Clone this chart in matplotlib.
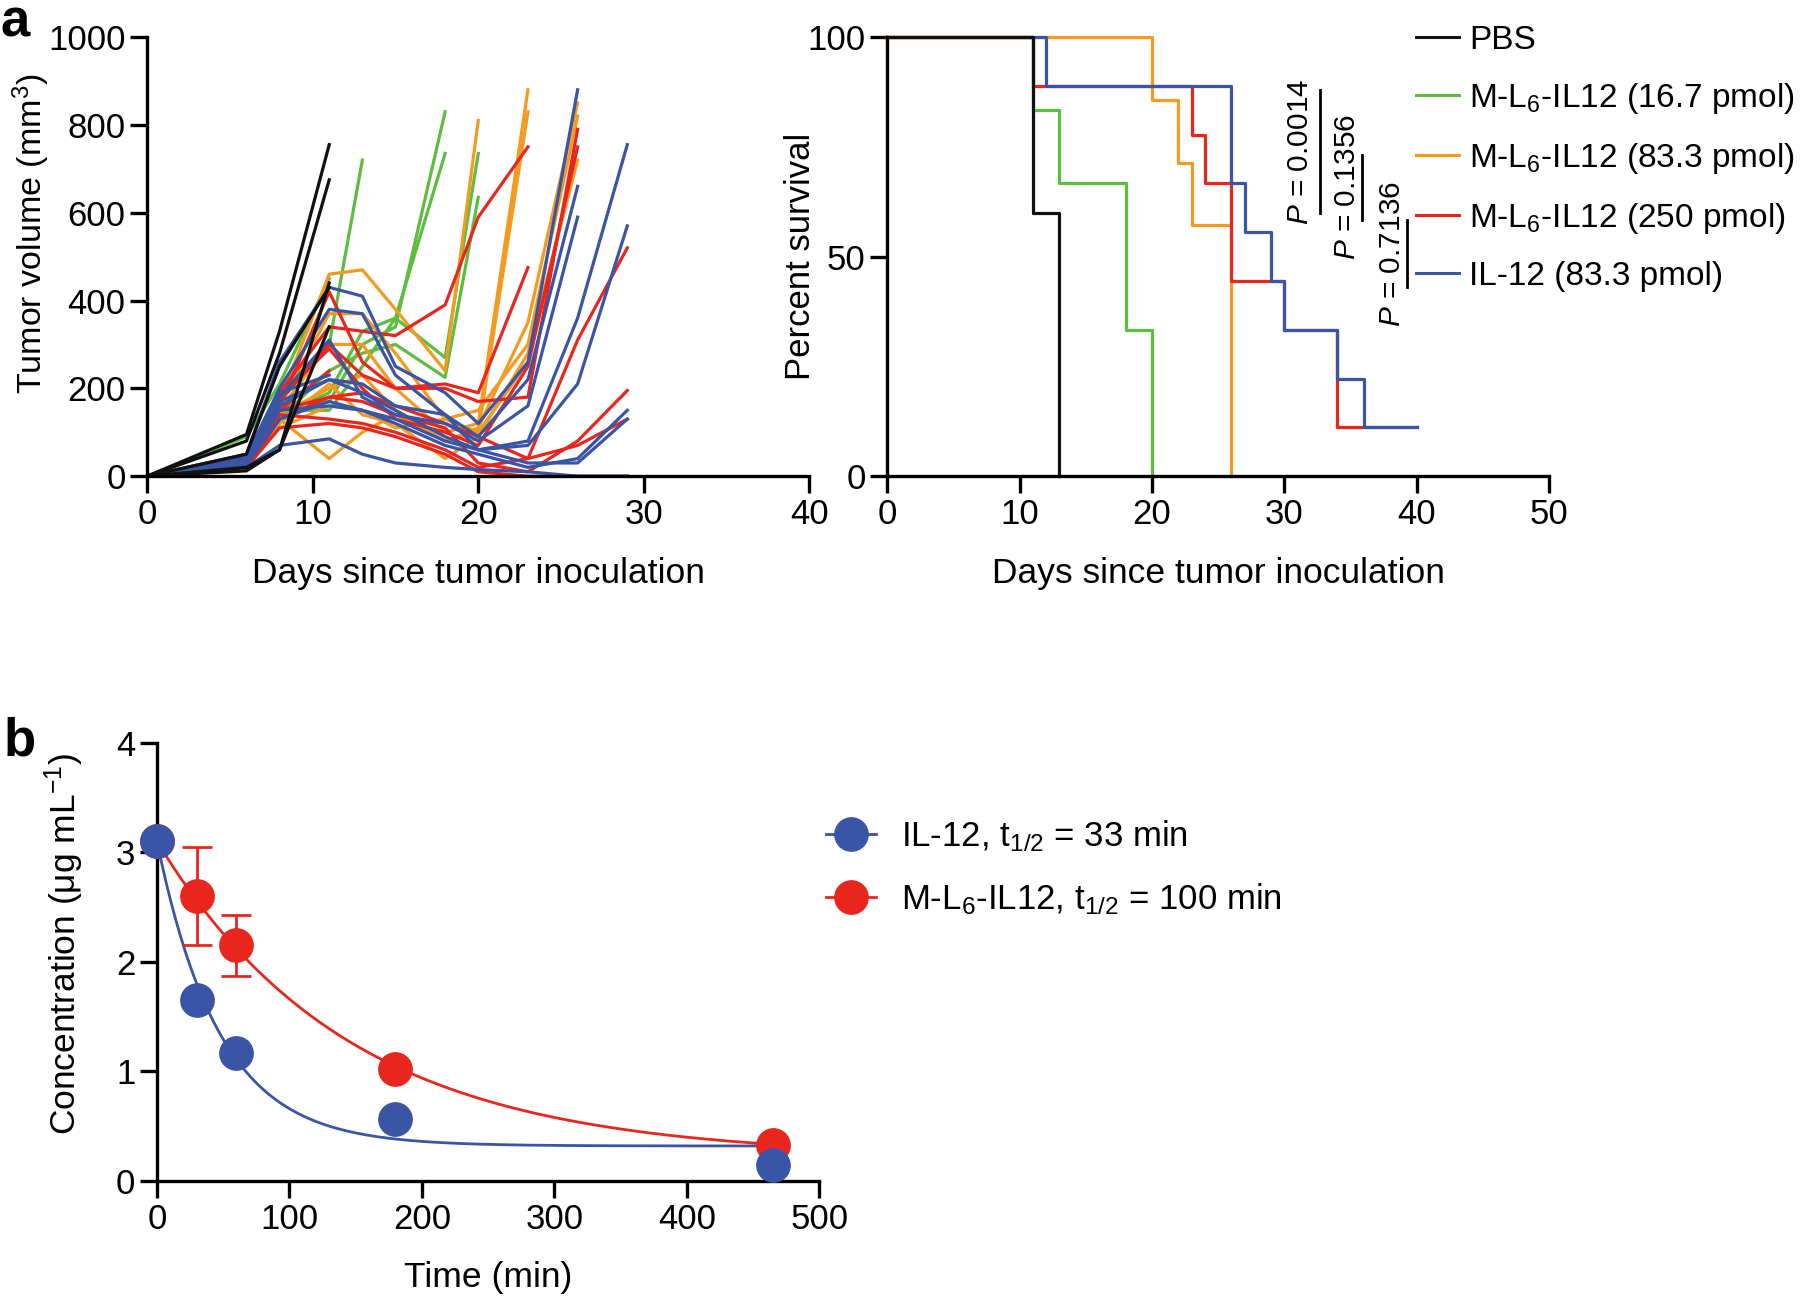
import numpy as np
import matplotlib
matplotlib.use("Agg")
import matplotlib.pyplot as plt
from matplotlib.lines import Line2D

plt.rcParams['font.family'] = ['Liberation Sans', 'DejaVu Sans']
plt.rcParams['mathtext.fontset'] = 'custom'
plt.rcParams['mathtext.rm'] = 'Liberation Sans'
plt.rcParams['mathtext.it'] = 'Liberation Sans:italic'
plt.rcParams['font.size'] = 25

# ---- data ----
days = [0, 6, 8, 11, 13, 15, 18, 20, 23, 26, 29]

# tumour volumes per mouse (mm^3), read at the days above
pbs_tracks = [
    [0, 95, 330, 755],
    [0, 80, 280, 675],
    [0, 50, 250, 430],
    [0, 20, 60, 340],
    [0, 12, 60, 440],
]
l6_low_tracks = [
    [0, 90, 210, 450],
    [0, 50, 180, 300, 720],
    [0, 40, 160, 170, 300, 340, 830],
    [0, 35, 150, 150, 250, 360, 735],
    [0, 30, 140, 190, 330, 360, 270, 735],
    [0, 25, 130, 240, 280, 300, 225, 635],
]
l6_mid_tracks = [
    [0, 40, 170, 460, 470, 380, 240, 810],
    [0, 30, 150, 300, 300, 200, 100, 120, 880],
    [0, 25, 140, 200, 230, 150, 80, 100, 830],
    [0, 20, 130, 40, 100, 140, 80, 110, 350, 850],
    [0, 35, 160, 370, 370, 280, 130, 150, 300, 820],
    [0, 30, 120, 210, 140, 120, 40, 90, 280, 720],
    [0, 20, 110, 160, 150, 110, 130, 100, 260],
]
l6_high_tracks = [
    [0, 30, 150, 240],
    [0, 35, 190, 340, 330, 320, 390, 590, 750],
    [0, 30, 170, 300, 230, 200, 210, 190, 475],
    [0, 25, 160, 420, 260, 200, 200, 170, 180, 790],
    [0, 30, 180, 290, 200, 130, 100, 70, 250, 750],
    [0, 20, 140, 130, 120, 100, 60, 20, 40, 310, 520],
    [0, 15, 130, 180, 170, 140, 110, 30, 10, 80, 195],
    [0, 20, 110, 120, 110, 90, 50, 10, 0, 0, 0],
    [0, 25, 150, 180, 190, 160, 120, 90, 40, 70, 130],
]
il12_tracks = [
    [0, 30, 190, 230],
    [0, 50, 260, 430, 410, 250, 190, 120, 260, 880],
    [0, 45, 200, 380, 370, 230, 140, 90, 220, 660],
    [0, 40, 180, 310, 180, 140, 120, 80, 160, 590],
    [0, 35, 170, 220, 210, 160, 140, 60, 80, 360, 755],
    [0, 30, 150, 160, 150, 130, 80, 60, 70, 210, 570],
    [0, 25, 130, 170, 150, 120, 70, 50, 20, 40, 150],
    [0, 20, 70, 85, 50, 30, 20, 15, 10, 0, 0],
    [0, 30, 160, 220, 190, 150, 90, 60, 30, 30, 130],
]

# Kaplan-Meier steps (day, percent survival)
pbs_surv_t = [0, 11, 13]
pbs_surv = [100, 60, 0]
low_surv_t = [0, 11, 13, 18, 20]
low_surv = [100, 83.3, 66.7, 33.3, 0]
mid_surv_t = [0, 20, 22, 23, 26]
mid_surv = [100, 85.7, 71.4, 57.1, 0]
high_surv_t = [0, 11, 23, 24, 26, 30, 34, 40]
high_surv = [100, 88.9, 77.8, 66.7, 44.4, 33.3, 11.1, 11.1]
il12_surv_t = [0, 12, 26, 27, 29, 30, 34, 36, 40]
il12_surv = [100, 88.9, 66.7, 55.6, 44.4, 33.3, 22.2, 11.1, 11.1]

group_labels = ['PBS', 'M-L$_6$-IL12 (16.7 pmol)', 'M-L$_6$-IL12 (83.3 pmol)',
                'M-L$_6$-IL12 (250 pmol)', 'IL-12 (83.3 pmol)']
p_labels = ['$P$ = 0.0014', '$P$ = 0.1356', '$P$ = 0.7136']

# pharmacokinetics
pk_time = [0, 30, 60, 180, 465]
il12_conc = [3.1, 1.65, 1.17, 0.57, 0.15]
ml6_conc = [3.1, 2.6, 2.15, 1.02, 0.33]
ml6_err = [0, 0.45, 0.28, 0, 0]
# one-phase decay fit parameters
il12_fit = dict(y0=3.1, plateau=0.32, half_life=33)
ml6_fit = dict(y0=3.1, plateau=0.22, half_life=100)

black = '#111111'
green = '#5cbd3e'
orange = '#f49a1f'
red = '#e8261d'
blue = '#3a55a6'
colors = [black, green, orange, red, blue]

fig = plt.figure(figsize=(18, 13.01), dpi=100)

def style_axes(ax):
    for s in ['top', 'right']:
        ax.spines[s].set_visible(False)
    for s in ['left', 'bottom']:
        ax.spines[s].set_linewidth(2.4)
        ax.spines[s].set_color('black')
    ax.tick_params(width=2.4, length=12, labelsize=25, pad=3.5)

# ---- tumour growth ----
ax1 = fig.add_axes([0.0817, 0.634, 0.368, 0.3375])
for tracks, col in [(l6_low_tracks, green), (l6_mid_tracks, orange),
                    (l6_high_tracks, red), (il12_tracks, blue), (pbs_tracks, black)]:
    for tr in tracks:
        ax1.plot(days[:len(tr)], tr, color=col, lw=2.3)
ax1.set_xlim(0, 40)
ax1.set_ylim(0, 1000)
ax1.set_xticks([0, 10, 20, 30, 40])
ax1.set_yticks(range(0, 1001, 200))
style_axes(ax1)
ax1.set_ylabel('Tumor volume (mm$^3$)', fontsize=24.5)
ax1.set_xlabel('Days since tumor inoculation', fontsize=25.5)
ax1.yaxis.set_label_coords(-0.1435, 0.551)
ax1.xaxis.set_label_coords(0.5, -0.1845)

# ---- survival ----
ax2 = fig.add_axes([0.4928, 0.634, 0.368, 0.3375])
surv = [(low_surv_t, low_surv, green), (mid_surv_t, mid_surv, orange),
        (high_surv_t, high_surv, red), (il12_surv_t, il12_surv, blue),
        (pbs_surv_t, pbs_surv, black)]
for t, s, col in surv:
    ax2.step(t, s, where='post', color=col, lw=2.3, clip_on=False)
ax2.set_xlim(0, 50)
ax2.set_ylim(0, 100)
ax2.set_xticks(range(0, 51, 10))
ax2.set_yticks([0, 50, 100])
style_axes(ax2)
ax2.set_ylabel('Percent survival', fontsize=25)
ax2.set_xlabel('Days since tumor inoculation', fontsize=25.5)
ax2.yaxis.set_label_coords(-0.1056, 0.5)
ax2.xaxis.set_label_coords(0.5, -0.1845)

handles = [Line2D([], [], color=c, lw=2.2) for c in colors]
ax2.legend(handles, group_labels, loc='upper left', frameon=False,
           bbox_to_anchor=(1416 / 1800, 1 - 25 / 1301), bbox_transform=fig.transFigure,
           handlelength=1.3, handletextpad=0.3, labelspacing=0.75, fontsize=24,
           borderaxespad=0, borderpad=0)

# P values with comparison bars (figure pixel coords)
p_text_xy = [(1300, 152), (1347, 187), (1392, 254)]
p_bar = [(1320, 90, 213), (1362, 155, 220), (1407, 220, 287)]
for lab, (tx, ty), (bx, b0, b1) in zip(p_labels, p_text_xy, p_bar):
    fig.text(tx / 1800, 1 - ty / 1301, lab, rotation=90, ha='center', va='center', fontsize=21.5)
    fig.add_artist(Line2D([bx / 1800, bx / 1800], [1 - b0 / 1301, 1 - b1 / 1301],
                          color='black', lw=2.0))

# ---- pharmacokinetics ----
ax3 = fig.add_axes([0.0872, 0.0922, 0.368, 0.337])
tt = np.linspace(0, max(pk_time), 400)
for fit, col in [(ml6_fit, red), (il12_fit, blue)]:
    k = np.log(2) / fit['half_life']
    ax3.plot(tt, (fit['y0'] - fit['plateau']) * np.exp(-k * tt) + fit['plateau'],
             color=col, lw=2.0, clip_on=False)
ax3.errorbar(pk_time, ml6_conc, yerr=ml6_err, fmt='o', color=red, ms=24,
             elinewidth=2.0, capsize=11, capthick=2.0, clip_on=False, zorder=3)
ax3.plot(pk_time, il12_conc, 'o', color=blue, ms=24, clip_on=False, zorder=4)
ax3.set_xlim(0, 500)
ax3.set_ylim(0, 4)
ax3.set_xticks(range(0, 501, 100))
ax3.set_yticks(range(0, 5))
style_axes(ax3)
ax3.set_ylabel('Concentration (μg mL$^{-1}$)', fontsize=25.5)
ax3.set_xlabel('Time (min)', fontsize=25.5)
ax3.yaxis.set_label_coords(-0.107, 0.54)
ax3.xaxis.set_label_coords(0.5, -0.183)

pk_handles = [Line2D([], [], color=blue, lw=2.0, marker='o', ms=24),
              Line2D([], [], color=red, lw=2.0, marker='o', ms=24)]
pk_labels = ['IL-12, t$_{1/2}$ = 33 min', 'M-L$_6$-IL12, t$_{1/2}$ = 100 min']
ax3.legend(pk_handles, pk_labels, loc='upper left', frameon=False,
           bbox_to_anchor=(826 / 1800, 1 - 818 / 1301), bbox_transform=fig.transFigure,
           handlelength=1.45, handletextpad=0.7, labelspacing=0.8, fontsize=25,
           borderaxespad=0, borderpad=0)

fig.text(0.0, 1.002, 'a', fontsize=38, fontweight='bold', va='top', ha='left')
fig.text(0.002, 1 - 716 / 1301, 'b', fontsize=38, fontweight='bold', va='top', ha='left')

fig.savefig('out.png', dpi=100)
